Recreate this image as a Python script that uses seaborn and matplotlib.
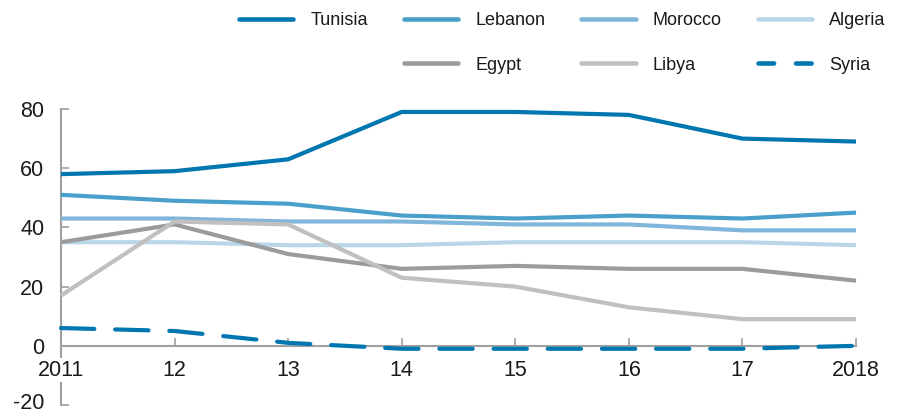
import matplotlib
matplotlib.use("Agg")
import matplotlib.pyplot as plt
import matplotlib.transforms as mtransforms
import seaborn as sns
import pandas as pd
from matplotlib.lines import Line2D

years = [2011, 2012, 2013, 2014, 2015, 2016, 2017, 2018]
year_labels = ["2011", "12", "13", "14", "15", "16", "17", "2018"]

tunisia = [58, 59, 63, 79, 79, 78, 70, 69]
lebanon = [51, 49, 48, 44, 43, 44, 43, 45]
morocco = [43, 43, 42, 42, 41, 41, 39, 39]
algeria = [35, 35, 34, 34, 35, 35, 35, 34]
egypt = [35, 41, 31, 26, 27, 26, 26, 22]
libya = [17, 42, 41, 23, 20, 13, 9, 9]
syria = [6, 5, 1, -1, -1, -1, -1, 0]

series = {
    "Tunisia": tunisia, "Lebanon": lebanon, "Morocco": morocco,
    "Algeria": algeria, "Egypt": egypt, "Libya": libya, "Syria": syria,
}
colors = {
    "Tunisia": "#0077b0", "Lebanon": "#4a9fcb", "Morocco": "#80b6da",
    "Algeria": "#bad7ea", "Egypt": "#9b9b9b", "Libya": "#c0c0c0",
    "Syria": "#0077b0",
}
draw_order = ["Algeria", "Morocco", "Lebanon", "Egypt", "Libya", "Tunisia", "Syria"]

df = pd.concat([pd.DataFrame({"year": years, "value": v, "country": k})
                for k, v in series.items()], ignore_index=True)

sns.set_theme(style="white")
plt.rcParams["font.family"] = ["Liberation Sans", "DejaVu Sans"]
plt.rcParams["axes.unicode_minus"] = False

fig = plt.figure(figsize=(9.05, 4.15), dpi=100)
ax = fig.add_axes([61 / 905, 10 / 415, (856 - 61) / 905, (405 - 109) / 415])

LW = 3.0
for c in draw_order:
    sub = df[df["country"] == c]
    sns.lineplot(data=sub, x="year", y="value", ax=ax, color=colors[c],
                 linewidth=LW, legend=False, zorder=3, clip_on=False)
    ln = ax.lines[-1]
    ln.set_solid_capstyle("butt")
    if c == "Syria":
        ln.set_dashes((8, 5))
        ln.set_dash_capstyle("round")

ax.set_xlim(2011, 2018)
ax.set_ylim(-20, 80)
ax.set_yticks([-20, 0, 20, 40, 60, 80])
ax.set_xticks(years)
ax.set_xticklabels(year_labels)
ax.set_xlabel("")
ax.set_ylabel("")

for s in ["top", "right"]:
    ax.spines[s].set_visible(False)
ax.spines["bottom"].set_position(("data", 0))
for s in ["left", "bottom"]:
    ax.spines[s].set_color("#a0a0a0")
    ax.spines[s].set_linewidth(1.5)
    ax.spines[s].set_zorder(2)

ax.tick_params(axis="both", direction="in", length=6, width=1.2,
               color="#a0a0a0", labelsize=15.5, labelcolor="#1a1a1a",
               bottom=True, left=True)
ax.tick_params(axis="y", pad=12)
ax.tick_params(axis="x", pad=10)
for lab in ax.get_xticklabels():
    lab.set_bbox(dict(facecolor="white", edgecolor="none", pad=1.0))
ax.xaxis.set_zorder(2.6)
ax.yaxis.set_zorder(2.6)
ax.set_facecolor("white")
ax.grid(False)

# keep the lowest y label inside the canvas
low = ax.get_yticklabels()[0]
low.set_transform(low.get_transform() +
                  mtransforms.ScaledTranslation(0, 4 / 100, fig.dpi_scale_trans))

handles, labels = [], []
legend_order = ["Tunisia", None, "Lebanon", "Egypt", "Morocco", "Libya", "Algeria", "Syria"]
for c in legend_order:
    if c is None:
        handles.append(Line2D([], [], color="none"))
        labels.append("")
    else:
        h = Line2D([], [], color=colors[c], linewidth=3.3,
                   solid_capstyle="round", dash_capstyle="round")
        if c == "Syria":
            h.set_dashes((3.4, 4.8))
        handles.append(h)
        labels.append(c)

fig.legend(handles, labels, ncol=4, loc="center left",
           bbox_to_anchor=(239 / 905, 1 - 43 / 415), frameon=False,
           fontsize=13, handlelength=3.0, handletextpad=0.95,
           columnspacing=2.0, labelspacing=1.5, borderpad=0, borderaxespad=0,
           labelcolor="#1a1a1a")

fig.savefig("out.png", dpi=100, facecolor="white")
